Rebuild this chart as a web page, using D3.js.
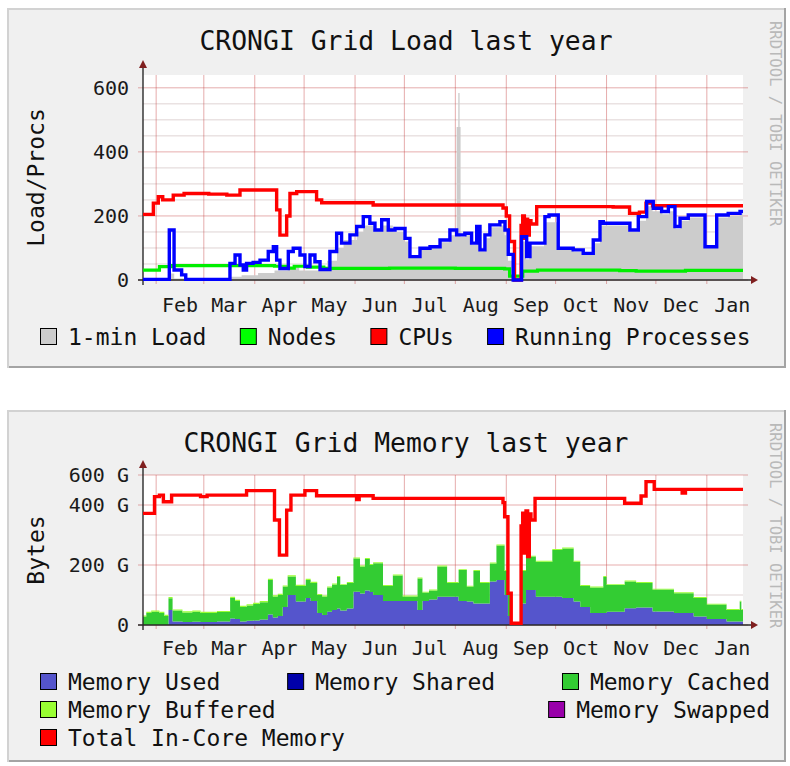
<!DOCTYPE html>
<html>
<head>
<meta charset="utf-8">
<script src="https://cdn.jsdelivr.net/npm/d3@7"></script>
<style>
  html, body { margin: 0; padding: 0; background: #ffffff; }
  svg { display: block; }
</style>
</head>
<body>
<svg id="chart" width="790" height="766"></svg>
<script>
// ---------- time range and month axis ----------
const START = new Date(2008, 0, 24);
const END = new Date(2009, 0, 23);
const monthStarts = ["2008-02-01", "2008-03-01", "2008-04-01", "2008-05-01", "2008-06-01", "2008-07-01",
                     "2008-08-01", "2008-09-01", "2008-10-01", "2008-11-01", "2008-12-01", "2009-01-01", "2009-02-01"];
const monthLabels = ["Feb", "Mar", "Apr", "May", "Jun", "Jul", "Aug", "Sep", "Oct", "Nov", "Dec", "Jan"];

// ---------- load graph series: [day since START, value] ----------
const loadOneMin = [[0,2],[16,20],[19,5],[53,10],[60,15],[70,22],[80,30],[88,40],[95,30],[108,30],[112,60],
  [118,100],[122,125],[130,150],[134,170],[140,160],[146,170],[152,150],[159,120],[162,70],[168,95],[175,100],
  [181,118],[186,140],[190.8,478],[191.8,584],[192.6,478],[193.2,135],[196,140],[200,110],[203,150],[205,90],
  [208,130],[211,165],[217,170],[220,140],[222,60],[225,0],[230,120],[233,65],[235,105],[244,180],[252,95],
  [262,88],[268,78],[274,115],[278,170],[296,150],[301,185],[306,230],[310,215],[316,205],[320,215],[324,160],
  [327,185],[332,195],[342,100],[349,195],[356,200],[363,205],[365,205]];
const nodes = [[0,31],[10,42],[18,45],[60,45],[80,43],[88,37],[92,43],[100,40],[110,36],[150,37],[190,36],
  [220,35],[223,12],[231,28],[240,31],[290,29],[300,28],[330,30],[365,30]];
const cpus = [[0,205],[6.3,240],[9.3,260],[12,250],[18.4,265],[25,270],[40,268],[51,265],[59,281],[81.3,219],
  [83.3,140],[87.4,200],[89.4,270],[93.5,276],[103.6,276],[105.6,250],[108.7,241],[140,234],[219,225],[221,200],
  [223,120],[226,0],[229,0],[230,170],[231,200],[232,130],[233,190],[234,140],[235,185],[236,175],[239.5,229],
  [286,228],[296,208],[302,212],[306,240],[310,232],[365,232]];
const runningProcs = [[0,2],[16,156],[18.9,31],[23.5,16],[26,2],[52.9,52],[56,78],[59,47],[61,31],[63,52],[67,55],
  [71.2,62],[76.2,89],[79.3,104],[81.3,62],[83.3,36],[88.4,89],[91.4,99],[95.5,78],[98.5,42],[101.6,78],
  [104.6,57],[107.7,33],[113.7,89],[117.8,146],[120.8,115],[125.9,141],[130,167],[134,198],[138,177],
  [141.1,156],[145.2,188],[149.2,156],[153.3,161],[159.4,130],[162.4,73],[168.5,99],[174.6,104],[180.7,125],
  [186.7,156],[190.8,141],[195.8,146],[199.9,115],[203,167],[205,94],[208,141],[211,172],[217.1,182],
  [220.2,156],[222.2,80],[225.2,0],[230.3,135],[233.4,73],[235.4,115],[244.5,198],[247,203],[252.6,99],
  [261.7,94],[267.8,83],[273.9,125],[278,182],[280,177],[296.2,156],[301.3,198],[306.4,245],[310.4,224],
  [315.5,214],[319.6,229],[323.6,167],[326.7,193],[331.7,203],[341.9,104],[349,203],[356,208],[363.2,214],
  [365,214]];
const loadTicks = [0, 200, 400, 600];
const loadTickLabels = ["0", "200", "400", "600"];
const loadMinor = [50, 100, 150, 250, 300, 350, 450, 500, 550];

// ---------- memory graph series (GB) ----------
const memDay = [0,2,5,10,13,15.5,18,24,30,35,45,53,56,59,63,67,71,76,79,82,85,88,93,99,102,106,109,112,115,
  118,120,124,128,132,135,138,140,146,152,158,167,170,174,179,185,192,197,201,205,211,215,220,222,224,230,
  233,239,249,255,262,266,272,280,282,293,300,310,323,335,343,355,363,364];
const memUsed = [0,0,0,0,0,50,12,10,11,10,12,22,20,12,14,15,18,35,25,30,60,100,78,90,80,40,33,44,50,
  55,48,55,111,105,115,110,100,80,80,80,50,80,85,94,94,80,78,72,72,145,150,100,30,0,72,
  117,94,94,90,78,60,40,40,44,56,58,45,40,28,20,12,12,12];
const memCached = [28,40,44,40,30,39,36,32,33,30,31,68,60,48,51,55,58,115,70,70,68,62,52,60,60,60,62,81,85,
  105,85,85,111,90,105,90,106,50,85,15,105,28,30,101,46,103,50,108,68,60,115,80,70,0,108,
  111,117,156,165,133,70,85,120,89,89,82,73,66,62,48,38,66,38];
const memBuffered = [4,4,4,4,4,4,4,4,4,4,4,4,4,4,4,4,4,4,4,4,4,4,4,4,4,3,3,3,3,
  3,3,3,3,3,3,3,3,3,3,3,3,3,3,3,3,3,3,3,3,3,3,3,3,0,3,
  3,3,3,3,3,3,3,3,3,3,3,3,3,3,3,3,3,3];
const memTotal = [[0,372],[7,428],[10,433],[12.4,411],[17.4,433],[35,428],[39,433],[63,448],[80,350],[83,233],
  [87.4,383],[90,433],[98.5,448],[105.6,431],[130,418],[131.5,431],[140,422],[217,422],[219,408],[220,361],
  [222,106],[224,6],[230,330],[231,373],[232,240],[233,380],[234,228],[235,370],[236,350],[238.5,422],[293,406],
  [303,430],[306,478],[311,452],[328,440],[330,452],[365,452]];
const memTicks = [0, 200, 400, 500];
const memTickLabels = ["0", "200 G", "400 G", "600 G"];
const memMinor = [100, 300];

// ---------- legends ----------
const loadLegend = [
  { name: "1-min Load", color: "#cccccc" },
  { name: "Nodes", color: "#00ff00" },
  { name: "CPUs", color: "#ff0000" },
  { name: "Running Processes", color: "#0000ff" }
];
const memLegendRows = [
  [{ name: "Memory Used", color: "#5555cc" }, { name: "Memory Shared", color: "#0000aa" }, { name: "Memory Cached", color: "#33cc33" }],
  [{ name: "Memory Buffered", color: "#99ff33" }, { name: "Memory Swapped", color: "#9900aa" }],
  [{ name: "Total In-Core Memory", color: "#ff0000" }]
];

// ---------- drawing ----------
const FONT = '"DejaVu Sans Mono", "Liberation Mono", monospace';
const svg = d3.select("#chart");
const parseDay = d3.timeParse("%Y-%m-%d");
const monthDates = monthStarts.map(parseDay);
const dayToDate = d => new Date(START.getTime() + d * 864e5);

const PLOT_L = 143, PLOT_R = 743;
const x = d3.scaleTime().domain([START, END]).range([PLOT_L, PLOT_R]);

function drawPanel(p) {
  const g = svg.append("g");
  g.append("rect").attr("x", p.x).attr("y", p.y).attr("width", p.w).attr("height", p.h).attr("fill", "#f0f0f0");
  g.append("path").attr("d", `M${p.x},${p.y + p.h} V${p.y + 1} H${p.x + p.w}`)
    .attr("fill", "none").attr("stroke", "#d2d2d2").attr("stroke-width", 2);
  g.append("path").attr("d", `M${p.x + 1},${p.y + p.h - 1} H${p.x + p.w - 1} V${p.y}`)
    .attr("fill", "none").attr("stroke", "#a4a4a4").attr("stroke-width", 2);
  return g;
}

function drawFrame(g, cfg) {
  const y = cfg.y;
  const top = cfg.top, bottom = cfg.bottom;
  // title
  g.append("text").attr("x", 406).attr("y", cfg.titleY).attr("text-anchor", "middle")
    .attr("font-family", FONT).attr("font-size", 26.4).attr("fill", "#111").text(cfg.title);
  // vertical axis title
  g.append("text").attr("transform", `translate(44,${(top + bottom) / 2}) rotate(-90)`)
    .attr("text-anchor", "middle").attr("font-family", FONT).attr("font-size", 23).attr("fill", "#111")
    .text(cfg.yTitle);
  // watermark
  g.append("text").attr("transform", `translate(770,${cfg.panelY + 13}) rotate(90)`)
    .attr("font-family", FONT).attr("font-size", 15.5).attr("fill", "#b9b9b9")
    .text("RRDTOOL / TOBI OETIKER");
  // canvas
  g.append("rect").attr("x", PLOT_L).attr("y", top).attr("width", PLOT_R - PLOT_L).attr("height", bottom - top)
    .attr("fill", "#ffffff");
  // minor horizontal grid
  g.selectAll(null).data(cfg.minor).join("line")
    .attr("x1", PLOT_L).attr("x2", PLOT_R).attr("y1", d => y(d)).attr("y2", d => y(d))
    .attr("stroke", "rgba(150,110,110,0.30)").attr("stroke-width", 1);
  // month grid lines
  g.selectAll(null).data(monthDates.slice(0, 12)).join("line")
    .attr("x1", d => x(d)).attr("x2", d => x(d)).attr("y1", top).attr("y2", bottom + 4)
    .attr("stroke", "rgba(200,70,70,0.45)").attr("stroke-width", 1);
  // major horizontal grid
  g.selectAll(null).data(cfg.ticks).join("line")
    .attr("x1", PLOT_L - 5).attr("x2", PLOT_R + 5).attr("y1", d => y(d)).attr("y2", d => y(d))
    .attr("stroke", "rgba(200,70,70,0.45)").attr("stroke-width", 1);
}

function drawAxes(g, cfg) {
  const y = cfg.y, top = cfg.top, bottom = cfg.bottom;
  g.append("line").attr("x1", PLOT_L - 5).attr("x2", PLOT_R + 9).attr("y1", bottom).attr("y2", bottom)
    .attr("stroke", "#2a2a2a").attr("stroke-width", 1.4);
  g.append("line").attr("x1", PLOT_L).attr("x2", PLOT_L).attr("y1", bottom + 5).attr("y2", top - 8)
    .attr("stroke", "#2a2a2a").attr("stroke-width", 1.4);
  g.append("path").attr("d", `M${PLOT_R + 8},${bottom - 4} L${PLOT_R + 15},${bottom} L${PLOT_R + 8},${bottom + 4}Z`)
    .attr("fill", "#7f1f1f");
  g.append("path").attr("d", `M${PLOT_L - 4},${top - 7} L${PLOT_L},${top - 15} L${PLOT_L + 4},${top - 7}Z`)
    .attr("fill", "#7f1f1f");
  // y labels
  g.selectAll(null).data(cfg.ticks).join("text")
    .attr("x", 129).attr("y", d => y(d)).attr("dy", "0.36em").attr("text-anchor", "end")
    .attr("font-family", FONT).attr("font-size", 20).attr("fill", "#1a1a1a")
    .text((d, i) => cfg.tickLabels[i]);
  // month labels, centred in each month
  g.selectAll(null).data(monthLabels).join("text")
    .attr("x", (d, i) => (x(monthDates[i]) + x(monthDates[i + 1])) / 2)
    .attr("y", cfg.monthY).attr("text-anchor", "middle")
    .attr("font-family", FONT).attr("font-size", 20).attr("fill", "#1a1a1a")
    .text(d => d);
}

function drawLegendRow(g, items, baseY, left, right) {
  const groups = items.map(it => {
    const gg = g.append("g");
    gg.append("rect").attr("x", 0.5).attr("y", baseY - 16.5).attr("width", 16).attr("height", 16)
      .attr("fill", it.color).attr("stroke", "#000").attr("stroke-width", 1);
    const t = gg.append("text").attr("x", 28).attr("y", baseY)
      .attr("font-family", FONT).attr("font-size", 23).attr("fill", "#111").text(it.name);
    return { gg, w: 28 + t.node().getComputedTextLength() };
  });
  const total = d3.sum(groups, d => d.w);
  const gap = groups.length > 1 ? (right - left - total) / (groups.length - 1) : 0;
  let cx = left;
  groups.forEach(o => { o.gg.attr("transform", `translate(${cx},0)`); cx += o.w + gap; });
}

// ===== Load graph =====
{
  const panel = { x: 8, y: 8, w: 778, h: 360 };
  const g = drawPanel(panel);
  const top = 75, bottom = 280;
  const y = d3.scaleLinear().domain([0, 640]).range([bottom, top]);
  const cfg = { y, top, bottom, title: "CRONGI Grid Load last year", titleY: 50, yTitle: "Load/Procs",
    panelY: panel.y, minor: loadMinor, ticks: loadTicks, tickLabels: loadTickLabels, monthY: 312 };
  drawFrame(g, cfg);

  const area = d3.area().curve(d3.curveStepAfter)
    .x(d => x(dayToDate(d[0]))).y0(y(0)).y1(d => y(d[1]));
  const line = d3.line().curve(d3.curveStepAfter)
    .x(d => x(dayToDate(d[0]))).y(d => y(d[1]));

  g.append("path").datum(loadOneMin).attr("d", area).attr("fill", "#cccccc");
  drawAxes(g, cfg);
  g.append("path").datum(nodes).attr("d", line).attr("fill", "none").attr("stroke", "#00ee00").attr("stroke-width", 3.2);
  g.append("path").datum(cpus).attr("d", line).attr("fill", "none").attr("stroke", "#ff0000").attr("stroke-width", 3.4);
  g.append("path").datum(runningProcs).attr("d", line).attr("fill", "none").attr("stroke", "#0000ff").attr("stroke-width", 3.4);

  drawLegendRow(g, loadLegend, 345, 40, 750.5);
}

// ===== Memory graph =====
{
  const panel = { x: 8, y: 410, w: 778, h: 352 };
  const g = drawPanel(panel);
  const top = 475, bottom = 625;
  const y = d3.scaleLinear().domain([0, 500]).range([bottom, top]);
  const cfg = { y, top, bottom, title: "CRONGI Grid Memory last year", titleY: 452, yTitle: "Bytes",
    panelY: panel.y, minor: memMinor, ticks: memTicks, tickLabels: memTickLabels, monthY: 655 };
  drawFrame(g, cfg);

  const rows = memDay.map((d, i) => ({ day: d, used: memUsed[i], cached: memCached[i], buffered: memBuffered[i] }));
  rows.push({ day: 365, used: memUsed[memUsed.length - 1], cached: memCached[memCached.length - 1],
              buffered: memBuffered[memBuffered.length - 1] });
  const stack = d3.stack().keys(["used", "cached", "buffered"]);
  const layers = stack(rows);
  const colors = { used: "#5555cc", cached: "#33cc33", buffered: "#99ff33" };
  const stackArea = d3.area().curve(d3.curveStepAfter)
    .x(d => x(dayToDate(d.data.day))).y0(d => y(d[0])).y1(d => y(d[1]));
  g.selectAll(null).data(layers).join("path")
    .attr("d", stackArea).attr("fill", d => colors[d.key]);

  drawAxes(g, cfg);
  const line = d3.line().curve(d3.curveStepAfter)
    .x(d => x(dayToDate(d[0]))).y(d => y(d[1]));
  g.append("path").datum(memTotal).attr("d", line).attr("fill", "none").attr("stroke", "#ff0000").attr("stroke-width", 3.4);

  drawLegendRow(g, memLegendRows[0], 690, 40, 770);
  drawLegendRow(g, memLegendRows[1], 718, 40, 770);
  drawLegendRow(g, memLegendRows[2], 746, 40, 770);
}
</script>
</body>
</html>
